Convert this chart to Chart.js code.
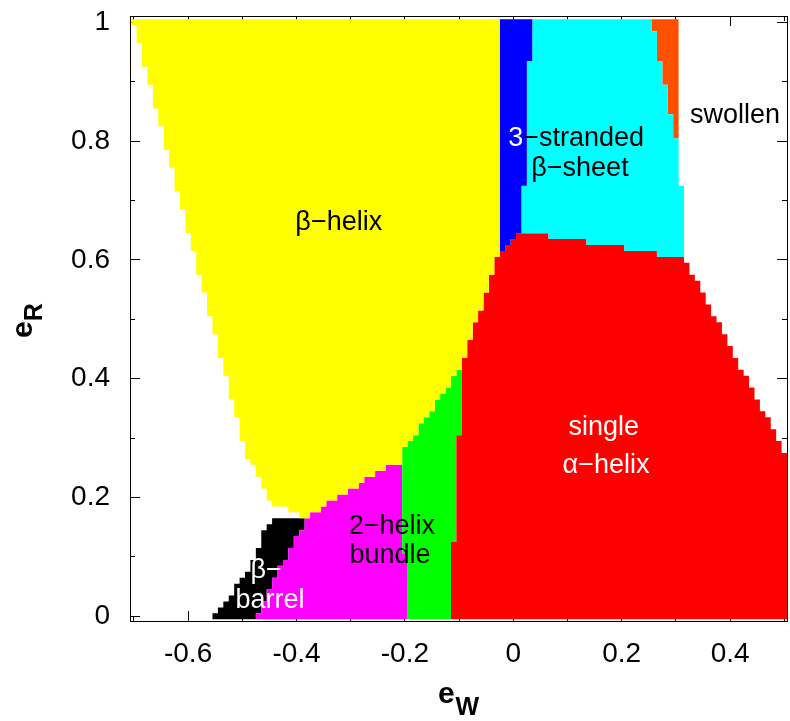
<!DOCTYPE html>
<html lang="en">
<head>
  <meta charset="UTF-8" />
  <title>Phase diagram e_W / e_R</title>
  <script src="https://cdn.jsdelivr.net/npm/chart.js"></script>
  <style>
    html, body { margin: 0; padding: 0; background: #fff; }
    #wrap { width: 790px; height: 721px; }
  </style>
</head>
<body>
  <div id="wrap"><canvas id="phaseChart"></canvas></div>

  <script>
    // axis ranges and ticks
    const xMin = -0.7072, xMax = 0.505;
    const yMin = -0.0079, yMax = 1.0106;
    const xMajorTicks = [-0.6, -0.4, -0.2, 0, 0.2, 0.4];
    const xMinorTicks = [-0.7, -0.6, -0.5, -0.4, -0.3, -0.2, -0.1, 0, 0.1, 0.2, 0.3, 0.4, 0.5];
    const yMajorTicks = [0, 0.2, 0.4, 0.6, 0.8, 1];
    const yMinorTicks = [0, 0.1, 0.2, 0.3, 0.4, 0.5, 0.6, 0.7, 0.8, 0.9, 1];

    // phase regions, outline corners [eW, eR] (0.01 cells).
    // each step goes horizontal first, then vertical (stepped: 'before')
    const betaHelix = [
      [-0.705, 1.005], [-0.025, 1.005], [-0.025, 0.605],
      [-0.035, 0.575], [-0.045, 0.545], [-0.055, 0.515], [-0.065, 0.495], [-0.075, 0.465], [-0.085, 0.435],
      [-0.095, 0.415], [-0.105, 0.405], [-0.115, 0.385], [-0.125, 0.375], [-0.135, 0.365], [-0.145, 0.345],
      [-0.155, 0.335], [-0.165, 0.325], [-0.175, 0.305], [-0.185, 0.295], [-0.195, 0.285], [-0.205, 0.255],
      [-0.235, 0.245], [-0.255, 0.235], [-0.275, 0.225], [-0.285, 0.215], [-0.305, 0.205], [-0.325, 0.195],
      [-0.345, 0.185], [-0.355, 0.175], [-0.375, 0.165],
      [-0.395, 0.175], [-0.415, 0.185], [-0.445, 0.195], [-0.455, 0.215], [-0.465, 0.235], [-0.475, 0.255],
      [-0.485, 0.265], [-0.495, 0.295], [-0.505, 0.335], [-0.515, 0.365], [-0.525, 0.405], [-0.535, 0.435],
      [-0.545, 0.475], [-0.555, 0.505], [-0.565, 0.545], [-0.575, 0.575], [-0.585, 0.615], [-0.595, 0.645],
      [-0.605, 0.685], [-0.615, 0.715], [-0.625, 0.755], [-0.635, 0.785], [-0.645, 0.825], [-0.655, 0.855],
      [-0.665, 0.895], [-0.675, 0.925], [-0.685, 0.965], [-0.695, 0.995], [-0.705, 1.005]
    ];
    const blueStrip = [
      [-0.025, 1.005], [0.035, 0.935], [0.025, 0.725], [0.015, 0.645], [0.005, 0.635],
      [-0.005, 0.625], [-0.015, 0.615], [-0.025, 1.005]
    ];
    const betaSheet = [
      [0.035, 1.005], [0.255, 0.985], [0.265, 0.935], [0.275, 0.895], [0.285, 0.845], [0.295, 0.805],
      [0.305, 0.725], [0.315, 0.605], [0.265, 0.615], [0.205, 0.625], [0.135, 0.635], [0.065, 0.645],
      [0.015, 0.725], [0.025, 0.935], [0.035, 1.005]
    ];
    const orangeWedge = [
      [0.255, 1.005], [0.305, 0.805], [0.295, 0.845], [0.285, 0.895], [0.275, 0.935], [0.265, 0.985], [0.255, 1.005]
    ];
    const singleHelix = [
      [0.005, 0.645], [0.065, 0.635], [0.135, 0.625], [0.205, 0.615], [0.265, 0.605], [0.315, 0.595],
      [0.325, 0.575], [0.335, 0.565], [0.345, 0.545], [0.355, 0.525], [0.365, 0.505], [0.375, 0.495],
      [0.385, 0.475], [0.395, 0.455], [0.405, 0.435], [0.415, 0.415], [0.425, 0.405], [0.435, 0.385],
      [0.445, 0.365], [0.455, 0.345], [0.465, 0.335], [0.475, 0.315], [0.485, 0.295], [0.495, 0.275],
      [0.505, -0.005], [-0.115, 0.125], [-0.105, 0.305], [-0.095, 0.435], [-0.085, 0.465], [-0.075, 0.495],
      [-0.065, 0.515], [-0.055, 0.545], [-0.045, 0.575], [-0.035, 0.605], [-0.025, 0.615], [-0.015, 0.625],
      [-0.005, 0.635], [0.005, 0.645]
    ];
    const greenBand = [
      [-0.105, 0.415], [-0.095, 0.305], [-0.105, 0.125], [-0.115, -0.005], [-0.195, 0.105], [-0.205, 0.285],
      [-0.195, 0.295], [-0.185, 0.305], [-0.175, 0.325], [-0.165, 0.335], [-0.155, 0.345], [-0.145, 0.365],
      [-0.135, 0.375], [-0.125, 0.385], [-0.115, 0.405], [-0.105, 0.415]
    ];
    const twoHelixBundle = [
      [-0.385, 0.165], [-0.375, 0.175], [-0.355, 0.185], [-0.345, 0.195], [-0.325, 0.205], [-0.305, 0.215],
      [-0.285, 0.225], [-0.275, 0.235], [-0.255, 0.245], [-0.235, 0.255], [-0.205, 0.105], [-0.195, -0.005],
      [-0.475, 0.005], [-0.465, 0.025], [-0.455, 0.045], [-0.445, 0.065], [-0.435, 0.085], [-0.425, 0.095],
      [-0.415, 0.115], [-0.405, 0.135], [-0.395, 0.145], [-0.385, 0.165]
    ];
    const betaBarrel = [
      [-0.445, 0.165], [-0.385, 0.145], [-0.395, 0.135], [-0.405, 0.115], [-0.415, 0.095], [-0.425, 0.085],
      [-0.435, 0.065], [-0.445, 0.045], [-0.455, 0.025], [-0.465, 0.005], [-0.475, -0.005], [-0.555, 0.005],
      [-0.545, 0.015], [-0.535, 0.025], [-0.525, 0.035], [-0.515, 0.055], [-0.505, 0.065], [-0.495, 0.075],
      [-0.485, 0.095], [-0.475, 0.115], [-0.465, 0.145], [-0.455, 0.155], [-0.445, 0.165]
    ];

    const regions = [
      { name: 'beta-helix', pts: betaHelix, color: '#ffff00' },
      { name: 'blue', pts: blueStrip, color: '#0000ff' },
      { name: '3-stranded beta-sheet', pts: betaSheet, color: '#00ffff' },
      { name: 'orange', pts: orangeWedge, color: '#ff5000' },
      { name: 'single alpha-helix', pts: singleHelix, color: '#ff0000' },
      { name: 'green', pts: greenBand, color: '#00ff00' },
      { name: '2-helix bundle', pts: twoHelixBundle, color: '#ff00ff' },
      { name: 'beta-barrel', pts: betaBarrel, color: '#000000' }
    ];

    // text placed in data coordinates (centre x, baseline y)
    const regionLabels = [
      { x: -0.322, y: 0.650, runs: [['β−helix', '#000']] },
      { x: 0.116, y: 0.791, runs: [['3', '#fff'], ['−stranded', '#000']] },
      { x: 0.123, y: 0.741, runs: [['β−sheet', '#000']] },
      { x: 0.409, y: 0.830, runs: [['swollen', '#000']] },
      { x: 0.167, y: 0.305, runs: [['single', '#fff']] },
      { x: 0.171, y: 0.242, runs: [['α−helix', '#fff']] },
      { x: -0.224, y: 0.139, runs: [['2−helix', '#000']] },
      { x: -0.2275, y: 0.089, runs: [['bundle', '#000']] },
      { x: -0.456, y: 0.064, runs: [['β−', '#fff']] },
      { x: -0.449, y: 0.0135, runs: [['barrel', '#fff']] }
    ];

    const FONT = '"Liberation Sans", Arial, Helvetica, sans-serif';
    const tickFont = { family: FONT, size: 28 };

    const phaseText = {
      id: 'phaseText',
      afterDatasetsDraw(chart) {
        const { ctx, chartArea } = chart;
        const sx = chart.scales.x, sy = chart.scales.y;
        ctx.save();
        ctx.textAlign = 'left';
        ctx.textBaseline = 'alphabetic';
        ctx.font = '27px ' + FONT;
        regionLabels.forEach(lab => {
          const total = lab.runs.reduce((w, r) => w + ctx.measureText(r[0]).width, 0);
          let px = sx.getPixelForValue(lab.x) - total / 2;
          const py = sy.getPixelForValue(lab.y);
          lab.runs.forEach(([txt, col]) => {
            ctx.fillStyle = col;
            ctx.fillText(txt, px, py);
            px += ctx.measureText(txt).width;
          });
        });

        // axis titles e_W and e_R
        ctx.fillStyle = '#000';
        const cx = (chartArea.left + chartArea.right) / 2;
        const cy = (chartArea.top + chartArea.bottom) / 2;
        ctx.font = 'bold 30px ' + FONT;
        ctx.fillText('e', cx - 20.5, chartArea.bottom + 82);
        ctx.font = 'bold 25px ' + FONT;
        ctx.fillText('W', cx - 3, chartArea.bottom + 94);

        ctx.translate(32, cy + 19.5);
        ctx.rotate(-Math.PI / 2);
        ctx.font = 'bold 30px ' + FONT;
        ctx.fillText('e', 0, 0);
        const ew = ctx.measureText('e').width;
        ctx.font = 'bold 25px ' + FONT;
        ctx.fillText('R', ew, 10);
        ctx.restore();
      }
    };

    const setTicks = list => s => { s.ticks = list.map(v => ({ value: v })); };
    // fixed box sizes, and no extra room for half-labels at the ends
    const fixSize = (w, h) => s => {
      if (w !== null) s.width = w;
      if (h !== null) s.height = h;
      s.paddingTop = 0; s.paddingBottom = 0; s.paddingLeft = 0; s.paddingRight = 0;
    };
    const labelTicks = { font: tickFont, color: '#000', autoSkip: false, maxRotation: 0, callback: v => String(v) };

    new Chart(document.getElementById('phaseChart'), {
      type: 'line',
      data: {
        datasets: regions.map(r => ({
          label: r.name,
          data: r.pts.map(([x, y]) => ({ x, y })),
          backgroundColor: r.color,
          borderColor: 'transparent',
          borderWidth: 0,
          pointRadius: 0,
          pointHitRadius: 0,
          stepped: 'before',
          fill: 'shape',
          xAxisID: 'x',
          yAxisID: 'y'
        }))
      },
      options: {
        responsive: true,
        maintainAspectRatio: false,
        animation: false,
        devicePixelRatio: 1,
        layout: { padding: 0 },
        plugins: { legend: { display: false }, tooltip: { enabled: false } },
        scales: {
          x: {
            type: 'linear', position: 'bottom', min: xMin, max: xMax, weight: 1,
            afterBuildTicks: setTicks(xMajorTicks),
            afterFit: fixSize(null, 100),
            grid: { drawOnChartArea: false, tickLength: -10, tickColor: '#000', color: '#000' },
            border: { display: true, color: '#000', width: 1 },
            ticks: Object.assign({ padding: 26 }, labelTicks)
          },
          xMinor: {
            type: 'linear', position: 'bottom', min: xMin, max: xMax, weight: 0,
            afterBuildTicks: setTicks(xMinorTicks),
            afterFit: fixSize(null, 0),
            grid: { drawOnChartArea: false, tickLength: -5, tickColor: '#000' },
            border: { display: false },
            ticks: { display: false }
          },
          xTop: {
            type: 'linear', position: 'top', min: xMin, max: xMax, weight: 1,
            afterBuildTicks: setTicks(xMajorTicks),
            afterFit: fixSize(null, 16),
            grid: { drawOnChartArea: false, tickLength: -10, tickColor: '#000' },
            border: { display: true, color: '#000', width: 1 },
            ticks: { display: false }
          },
          xTopMinor: {
            type: 'linear', position: 'top', min: xMin, max: xMax, weight: 0,
            afterBuildTicks: setTicks(xMinorTicks),
            afterFit: fixSize(null, 0),
            grid: { drawOnChartArea: false, tickLength: -5, tickColor: '#000' },
            border: { display: false },
            ticks: { display: false }
          },
          y: {
            type: 'linear', position: 'left', min: yMin, max: yMax, weight: 1,
            afterBuildTicks: setTicks(yMajorTicks),
            afterFit: fixSize(130, null),
            grid: { drawOnChartArea: false, tickLength: -10, tickColor: '#000', color: '#000' },
            border: { display: true, color: '#000', width: 1 },
            ticks: Object.assign({ padding: 30 }, labelTicks)
          },
          yMinor: {
            type: 'linear', position: 'left', min: yMin, max: yMax, weight: 0,
            afterBuildTicks: setTicks(yMinorTicks),
            afterFit: fixSize(0, null),
            grid: { drawOnChartArea: false, tickLength: -5, tickColor: '#000' },
            border: { display: false },
            ticks: { display: false }
          },
          yRight: {
            type: 'linear', position: 'right', min: yMin, max: yMax, weight: 1,
            afterBuildTicks: setTicks(yMajorTicks),
            afterFit: fixSize(3, null),
            grid: { drawOnChartArea: false, tickLength: -10, tickColor: '#000' },
            border: { display: true, color: '#000', width: 1 },
            ticks: { display: false }
          },
          yRightMinor: {
            type: 'linear', position: 'right', min: yMin, max: yMax, weight: 0,
            afterBuildTicks: setTicks(yMinorTicks),
            afterFit: fixSize(0, null),
            grid: { drawOnChartArea: false, tickLength: -5, tickColor: '#000' },
            border: { display: false },
            ticks: { display: false }
          }
        }
      },
      plugins: [phaseText]
    });
  </script>
</body>
</html>
